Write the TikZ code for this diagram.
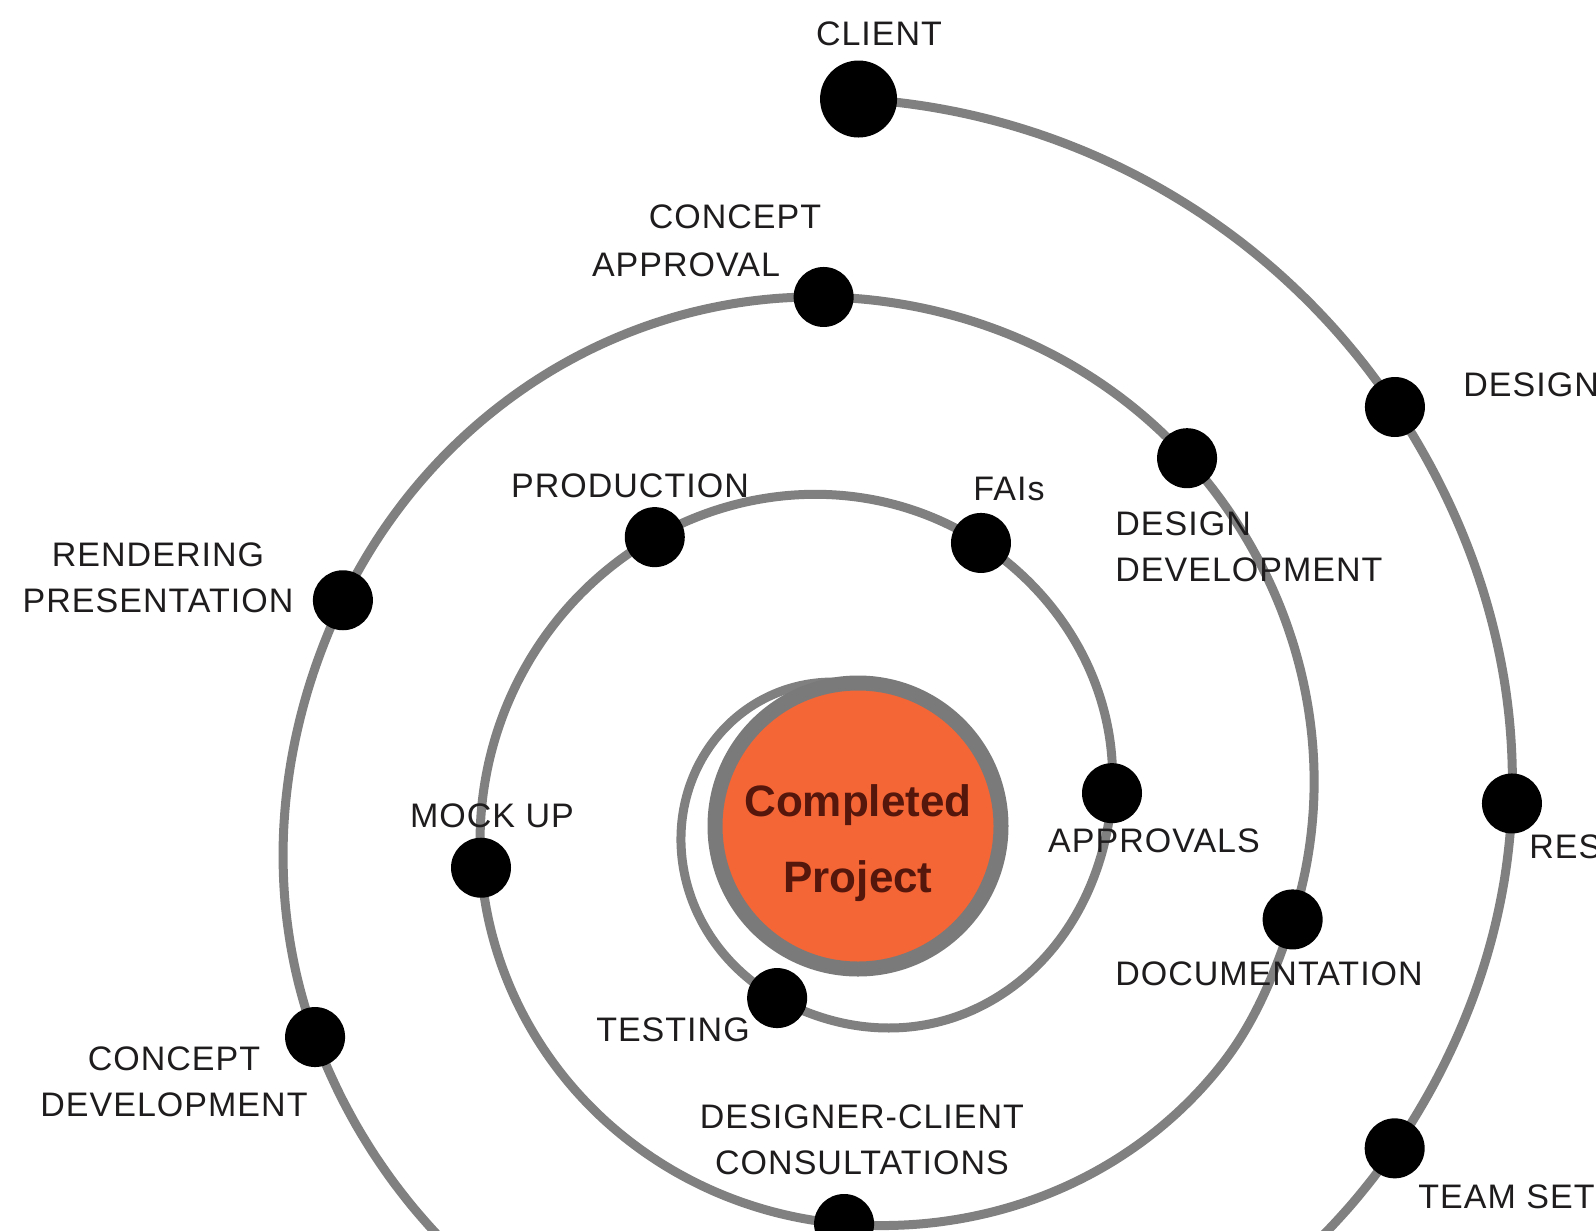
\documentclass[tikz,border=0pt]{standalone}
\usepackage{fontspec}
\setmainfont{Liberation Sans}
\newfontfamily\lblfont{Liberation Sans}[LetterSpace=3]
\definecolor{spiralgray}{RGB}{128,128,128}
\definecolor{ringgray}{RGB}{122,122,122}
\definecolor{coreorange}{RGB}{244,102,54}
\definecolor{labelink}{RGB}{30,28,28}
\definecolor{coreink}{RGB}{85,22,12}
% radius of the spiral (pixels) as a function of the turned angle (degrees, clockwise from CLIENT)
\pgfmathdeclarefunction{spbase}{1}{%
  \pgfmathparse{709.5-0.51977*(#1)-0.3553*((#1)/100)*((#1)/100)-3*cos(89.3-(#1))-9.25*sin(89.3-(#1))}}
% smooth correction between two stations: angle, angle a, angle b, value a, value b
\pgfmathdeclarefunction{spblend}{5}{%
  \pgfmathparse{(#4)+((#5)-(#4))*(1-cos(180*(((#1)-(#2))/((#3)-(#2)))))/2}}
\begin{document}
\begin{tikzpicture}[x=0.5pt, y=-0.5pt,
  spiral/.style={draw=spiralgray, line width=4.5pt, line cap=round},
  dotnode/.style={circle, fill=black, inner sep=0pt, minimum size=30pt},
  bigdot/.style={dotnode, minimum size=38.5pt},
  lbl/.style={text=labelink, font=\lblfont\fontsize{17}{23}\selectfont, inner sep=0pt},
  ]
\useasboundingbox (0,0) rectangle (1596,1231);
\clip (0,0) rectangle (1596,1231);
\fill[white] (0,0) rectangle (1596,1231);

% ---- the spiral, drawn in pieces from station to station ----
\foreach \pa/\pb/\ea/\eb in {
  0/53.5/0.85/-1.85, 53.5/89.6/-1.85/2.3, 89.6/121.9/2.3/-1.5,
  121.9/245.4/-1.5/-1.2, 245.4/290.8/-1.2/-9.7, 290.8/356.3/-9.7/-7.0,
  356.3/403.9/-7.0/-5.0, 403.9/464.4/-5.0/-1.5, 464.4/485/-1.5/4.2,
  485/540.1/4.2/-3.65, 540.1/618.9/-3.65/-3.65, 618.9/682.7/-3.65/-5,
  682.7/746.3/-5/-3.7, 746.3/807.8/-3.7/-1.1, 807.8/868.9/-1.1/5.9,
  868.9/919.5/5.9/-0.2}
  \draw[spiral] plot[domain=\pa:\pb, samples=40, smooth, variable=\u]
    ({850+(spbase(\u)+spblend(\u,\pa,\pb,\ea,\eb))*cos(89.3-\u)},
     {800-(spbase(\u)+spblend(\u,\pa,\pb,\ea,\eb))*sin(89.3-\u)});
% last loop, running onto the centre ring
\draw[spiral] plot[domain=919.5:1083.9, samples=60, smooth, variable=\u]
  ({850+(spbase(\u)-0.2+21.4*((\u-919.5)/164.4)^3*sqrt((\u-919.5)/164.4))*cos(89.3-\u)},
   {800-(spbase(\u)-0.2+21.4*((\u-919.5)/164.4)^3*sqrt((\u-919.5)/164.4))*sin(89.3-\u)});

% ---- centre ----
\node[circle, draw=ringgray, line width=7.5pt, fill=coreorange,
      minimum size=143pt, inner sep=0pt] (core) at (858,826) {};
\node[font=\fontsize{22}{38}\selectfont\bfseries, text=coreink, align=center,
      inner sep=0pt] (coretext) at (858,843) {Completed\\Project};

% ---- station dots, placed on the spiral ----
\node[bigdot] (client) at ({850+(spbase(0)+0.85)*cos(89.3)},{800-(spbase(0)+0.85)*sin(89.3)}) {};
\foreach \nm/\ps/\ee in {design/53.5/-1.85, res/89.6/2.3, team/121.9/-1.5,
  cdev/245.4/-1.2, rend/290.8/-9.7, capp/356.3/-7.0, ddev/403.9/-5.0,
  doc/464.4/-1.5, dcc/540.1/-3.65, mock/618.9/-3.65, prod/682.7/-5,
  fais/746.3/-3.7, appr/807.8/-1.1, test/919.5/-0.2}
  \node[dotnode] (\nm) at ({850+(spbase(\ps)+(\ee))*cos(89.3-\ps)},
                          {800-(spbase(\ps)+(\ee))*sin(89.3-\ps)}) {};

% ---- labels ----
\node[lbl] (l-client) at (879,34) {CLIENT};
\node[lbl] (l-capp1) at (735,217) {CONCEPT};
\node[lbl] (l-capp2) at (686,265) {APPROVAL};
\node[lbl, anchor=west] (l-design) at (1463,385) {DESIGN};
\node[lbl, anchor=west] (l-res) at (1529,847) {RES};
\node[lbl, anchor=west] (l-team) at (1418,1197) {TEAM SET};
\node[lbl, anchor=west, align=left] (l-ddev) at (1115,547) {DESIGN\\DEVELOPMENT};
\node[lbl, align=center] (l-rend) at (158,578) {RENDERING\\PRESENTATION};
\node[lbl] (l-prod) at (630,486) {PRODUCTION};
\node[lbl] (l-fais) at (1009,489) {FAIs};
\node[lbl] (l-mock) at (492,816) {MOCK UP};
\node[lbl] (l-appr) at (1154,841) {APPROVALS};
\node[lbl] (l-doc) at (1269,974) {DOCUMENTATION};
\node[lbl] (l-test) at (673,1030) {TESTING};
\node[lbl, align=center] (l-dcc) at (862,1140) {DESIGNER-CLIENT\\CONSULTATIONS};
\node[lbl, align=center] (l-cdev) at (174,1082) {CONCEPT\\DEVELOPMENT};
\end{tikzpicture}
\end{document}
